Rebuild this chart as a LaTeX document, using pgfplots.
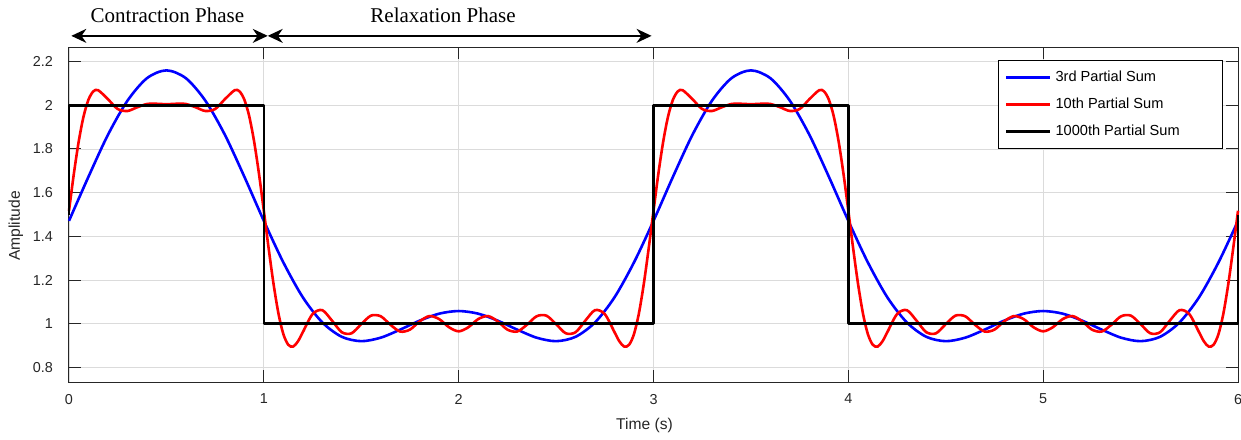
\documentclass[border=0pt]{standalone}
\usepackage{fontspec}
\setmainfont{Liberation Sans}
\newfontfamily\serifannot{Liberation Serif}
\usepackage{pgfplots}
\pgfplotsset{compat=1.18}
\usetikzlibrary{arrows.meta}

\begin{document}
\begin{tikzpicture}
\begin{axis}[
 name=ax,
 scale only axis,
 width=584.5pt, height=167.5pt,
 xmin=0, xmax=6, ymin=0.733, ymax=2.267,
 xtick={0,1,2,3,4,5,6},
 ytick={0.8,1,1.2,1.4,1.6,1.8,2,2.2},
 grid=major,
 major grid style={draw=black!14, line width=0.4pt},
 axis line style={draw=black!85, line width=0.5pt},
 tick style={draw=black!85, line width=0.5pt},
 major tick length=6pt,
 tick align=inside,
 /pgf/number format/assume math mode=true,
 ticklabel style={font=\fontsize{7.2}{8}\selectfont, text=black!85},
 xticklabel style={yshift=-2.5pt},
 yticklabel style={xshift=-4.5pt},
 xlabel={Time (s)}, ylabel={Amplitude},
 label style={font=\fontsize{7.8}{9}\selectfont, text=black!85},
 xlabel style={at={(axis description cs:0.4923,-0.1284)}, anchor=center},
 ylabel style={at={(axis description cs:-0.0455,0.466)}, anchor=center},
 clip=false,
 legend style={at={(0.9872,0.9612)}, anchor=north east, draw=black, line width=0.5pt, fill=white,
   font=\fontsize{7.3}{8}\selectfont, inner xsep=3pt, inner ysep=3pt, row sep=2.8pt},
 legend image code/.code={\draw[#1, line width=1.4pt] (0pt,0pt) -- (22pt,0pt);},
 legend cell align=left,
]
\addplot[blue, line width=1.3pt, smooth] coordinates {
(0,1.471)(0.1,1.673)(0.2,1.865)(0.3,2.021)(0.4,2.124)(0.5,2.160)(0.6,2.124)(0.7,2.021)(0.8,1.865)(0.9,1.673)
(1.0,1.471)(1.1,1.281)(1.2,1.121)(1.3,1.006)(1.4,0.940)(1.5,0.920)(1.6,0.936)(1.7,0.973)(1.8,1.014)(1.9,1.046)
(2.0,1.058)(2.1,1.046)(2.2,1.014)(2.3,0.973)(2.4,0.936)(2.5,0.920)(2.6,0.940)(2.7,1.006)(2.8,1.121)(2.9,1.281)
(3.0,1.471)(3.1,1.673)(3.2,1.865)(3.3,2.021)(3.4,2.124)(3.5,2.160)(3.6,2.124)(3.7,2.021)(3.8,1.865)(3.9,1.673)
(4.0,1.471)(4.1,1.281)(4.2,1.121)(4.3,1.006)(4.4,0.940)(4.5,0.920)(4.6,0.936)(4.7,0.973)(4.8,1.014)(4.9,1.046)
(5.0,1.058)(5.1,1.046)(5.2,1.014)(5.3,0.973)(5.4,0.936)(5.5,0.920)(5.6,0.940)(5.7,1.006)(5.8,1.121)(5.9,1.281)
(6.0,1.471)};
\addlegendentry{\makebox[78.5pt][l]{3rd Partial Sum}}
\addplot[red, line width=1.3pt, smooth] coordinates {
(0,1.517)(0.025,1.687)(0.05,1.835)(0.075,1.950)(0.1,2.026)(0.125,2.064)(0.15,2.069)(0.2,2.028)(0.25,1.983)(0.3,1.974)
(0.35,1.991)(0.4,2.006)(0.45,2.007)(0.5,2.005)(0.55,2.007)(0.6,2.006)(0.65,1.991)(0.7,1.974)(0.75,1.983)(0.8,2.028)
(0.85,2.069)(0.875,2.064)(0.9,2.026)(0.925,1.950)(0.95,1.835)(0.975,1.687)(1.0,1.517)(1.025,1.343)(1.05,1.181)(1.075,1.047)
(1.1,0.953)(1.125,0.904)(1.15,0.895)(1.175,0.919)(1.2,0.961)(1.25,1.044)(1.3,1.062)(1.35,1.014)(1.4,0.961)(1.45,0.956)
(1.5,0.998)(1.55,1.037)(1.6,1.034)(1.65,0.995)(1.7,0.964)(1.75,0.973)(1.8,1.011)(1.85,1.035)(1.9,1.021)(1.95,0.984)
(2.0,0.965)(2.05,0.984)(2.1,1.021)(2.15,1.035)(2.2,1.011)(2.25,0.973)(2.3,0.964)(2.35,0.995)(2.4,1.034)(2.45,1.037)
(2.5,0.998)(2.55,0.956)(2.6,0.961)(2.65,1.014)(2.7,1.062)(2.75,1.044)(2.8,0.961)(2.825,0.919)(2.85,0.895)(2.875,0.904)
(2.9,0.953)(2.925,1.047)(2.95,1.181)(2.975,1.343)
(3,1.517)(3.025,1.687)(3.05,1.835)(3.075,1.950)(3.1,2.026)(3.125,2.064)(3.15,2.069)(3.2,2.028)(3.25,1.983)(3.3,1.974)
(3.35,1.991)(3.4,2.006)(3.45,2.007)(3.5,2.005)(3.55,2.007)(3.6,2.006)(3.65,1.991)(3.7,1.974)(3.75,1.983)(3.8,2.028)
(3.85,2.069)(3.875,2.064)(3.9,2.026)(3.925,1.950)(3.95,1.835)(3.975,1.687)(4.0,1.517)(4.025,1.343)(4.05,1.181)(4.075,1.047)
(4.1,0.953)(4.125,0.904)(4.15,0.895)(4.175,0.919)(4.2,0.961)(4.25,1.044)(4.3,1.062)(4.35,1.014)(4.4,0.961)(4.45,0.956)
(4.5,0.998)(4.55,1.037)(4.6,1.034)(4.65,0.995)(4.7,0.964)(4.75,0.973)(4.8,1.011)(4.85,1.035)(4.9,1.021)(4.95,0.984)
(5.0,0.965)(5.05,0.984)(5.1,1.021)(5.15,1.035)(5.2,1.011)(5.25,0.973)(5.3,0.964)(5.35,0.995)(5.4,1.034)(5.45,1.037)
(5.5,0.998)(5.55,0.956)(5.6,0.961)(5.65,1.014)(5.7,1.062)(5.75,1.044)(5.8,0.961)(5.825,0.919)(5.85,0.895)(5.875,0.904)
(5.9,0.953)(5.925,1.047)(5.95,1.181)(5.975,1.343)(6.0,1.517)};
\addlegendentry{\makebox[78.5pt][l]{10th Partial Sum}}
\addplot[black, line width=1.3pt, line join=round] coordinates {
(0,1.5)(0,2)(1,2)(1,1)(3,1)(3,2)(4,2)(4,1)(6,1)(6,1.5)};
\addlegendentry{\makebox[78.5pt][l]{1000th Partial Sum}}
\draw[{Stealth[length=7.5pt,width=7pt]}-{Stealth[length=7.5pt,width=7pt]}, line width=0.9pt]
  (axis cs:0.012,2.318) -- (axis cs:1.02,2.318);
\draw[{Stealth[length=7.5pt,width=7pt]}-{Stealth[length=7.5pt,width=7pt]}, line width=0.9pt]
  (axis cs:1.02,2.318) -- (axis cs:2.99,2.318);
\node[font=\serifannot\fontsize{10.5}{12}\selectfont] at (axis cs:0.505,2.41) {Contraction Phase};
\node[font=\serifannot\fontsize{10.5}{12}\selectfont] at (axis cs:1.92,2.41) {Relaxation Phase};
\end{axis}
\pgfresetboundingbox
\path[use as bounding box] ([shift={(-34.5pt,-28.5pt)}]ax.south west) rectangle ([shift={(1.5pt,23.5pt)}]ax.north east);
\end{tikzpicture}
\end{document}
